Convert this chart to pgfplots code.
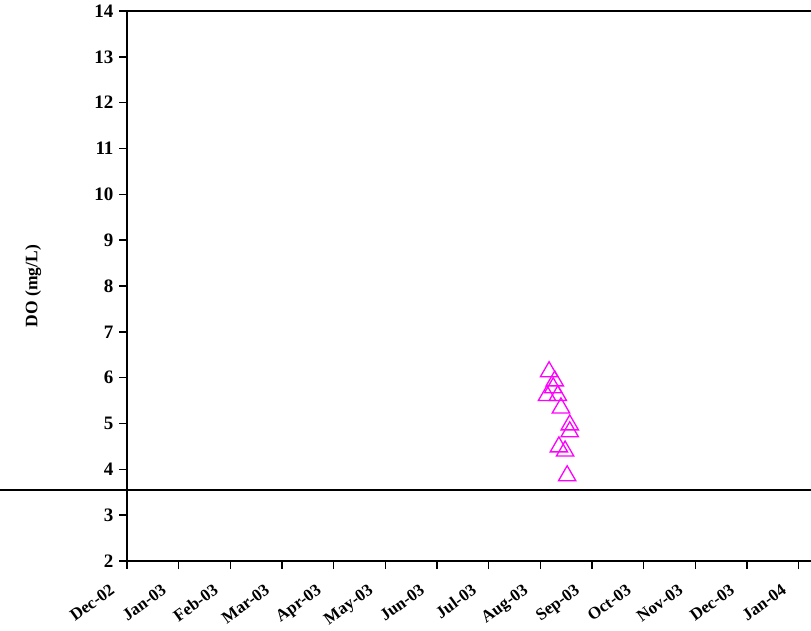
\documentclass[border=0pt]{standalone}
\usepackage{fontspec}
\setmainfont{Liberation Serif}
\usepackage{pgfplots}
\pgfplotsset{compat=1.18}
\definecolor{mag}{RGB}{255,0,255}
\begin{document}
\begin{tikzpicture}[x=1pt,y=1pt]
\begin{axis}[
  at={(0,0)}, anchor=origin,
  scale only axis,
  width=684pt, height=550pt,
  xmin=0, xmax=13.24,
  ymin=2, ymax=14,
  axis lines=left,
  axis line style={-, line width=1.6pt},
  clip=false,
  xtick={0,1,...,13},
  xticklabels={Dec-02,Jan-03,Feb-03,Mar-03,Apr-03,May-03,Jun-03,Jul-03,Aug-03,Sep-03,Oct-03,Nov-03,Dec-03,Jan-04},
  ytick={2,3,...,14},
  tick align=outside,
  major tick length=8pt,
  tick style={black, line width=1.4pt},
  /pgf/number format/assume math mode=true,
  yticklabel style={font=\fontsize{19}{21}\selectfont\bfseries, xshift=-2pt},
  xticklabel style={font=\fontsize{17}{19}\selectfont\bfseries, xshift=-18pt, yshift=-14pt, rotate=36, anchor=north east, inner sep=0pt},
  ylabel={DO (mg/L)},
  ylabel style={font=\fontsize{17.5}{19}\selectfont\bfseries, at={(axis description cs:-0.137,0.5)}, anchor=center},
]
\addplot[only marks, mark=triangle, mark size=10pt, mark options={draw=mag, line width=1.3pt, fill=none}] coordinates {
(8.17,6.13) (8.28,5.93) (8.25,5.78) (8.13,5.61) (8.34,5.61)
(8.40,5.34) (8.57,4.97) (8.57,4.82) (8.36,4.49) (8.48,4.40) (8.52,3.86)
};
\addplot[black, line width=1.6pt] coordinates {(-2.45,3.55) (13.24,3.55)};
\draw[line width=1.6pt] (rel axis cs:0,1) -- (rel axis cs:1,1);
\end{axis}
\pgfresetboundingbox
\path[use as bounding box] (-127,-69) rectangle (684,561);
\end{tikzpicture}
\end{document}
